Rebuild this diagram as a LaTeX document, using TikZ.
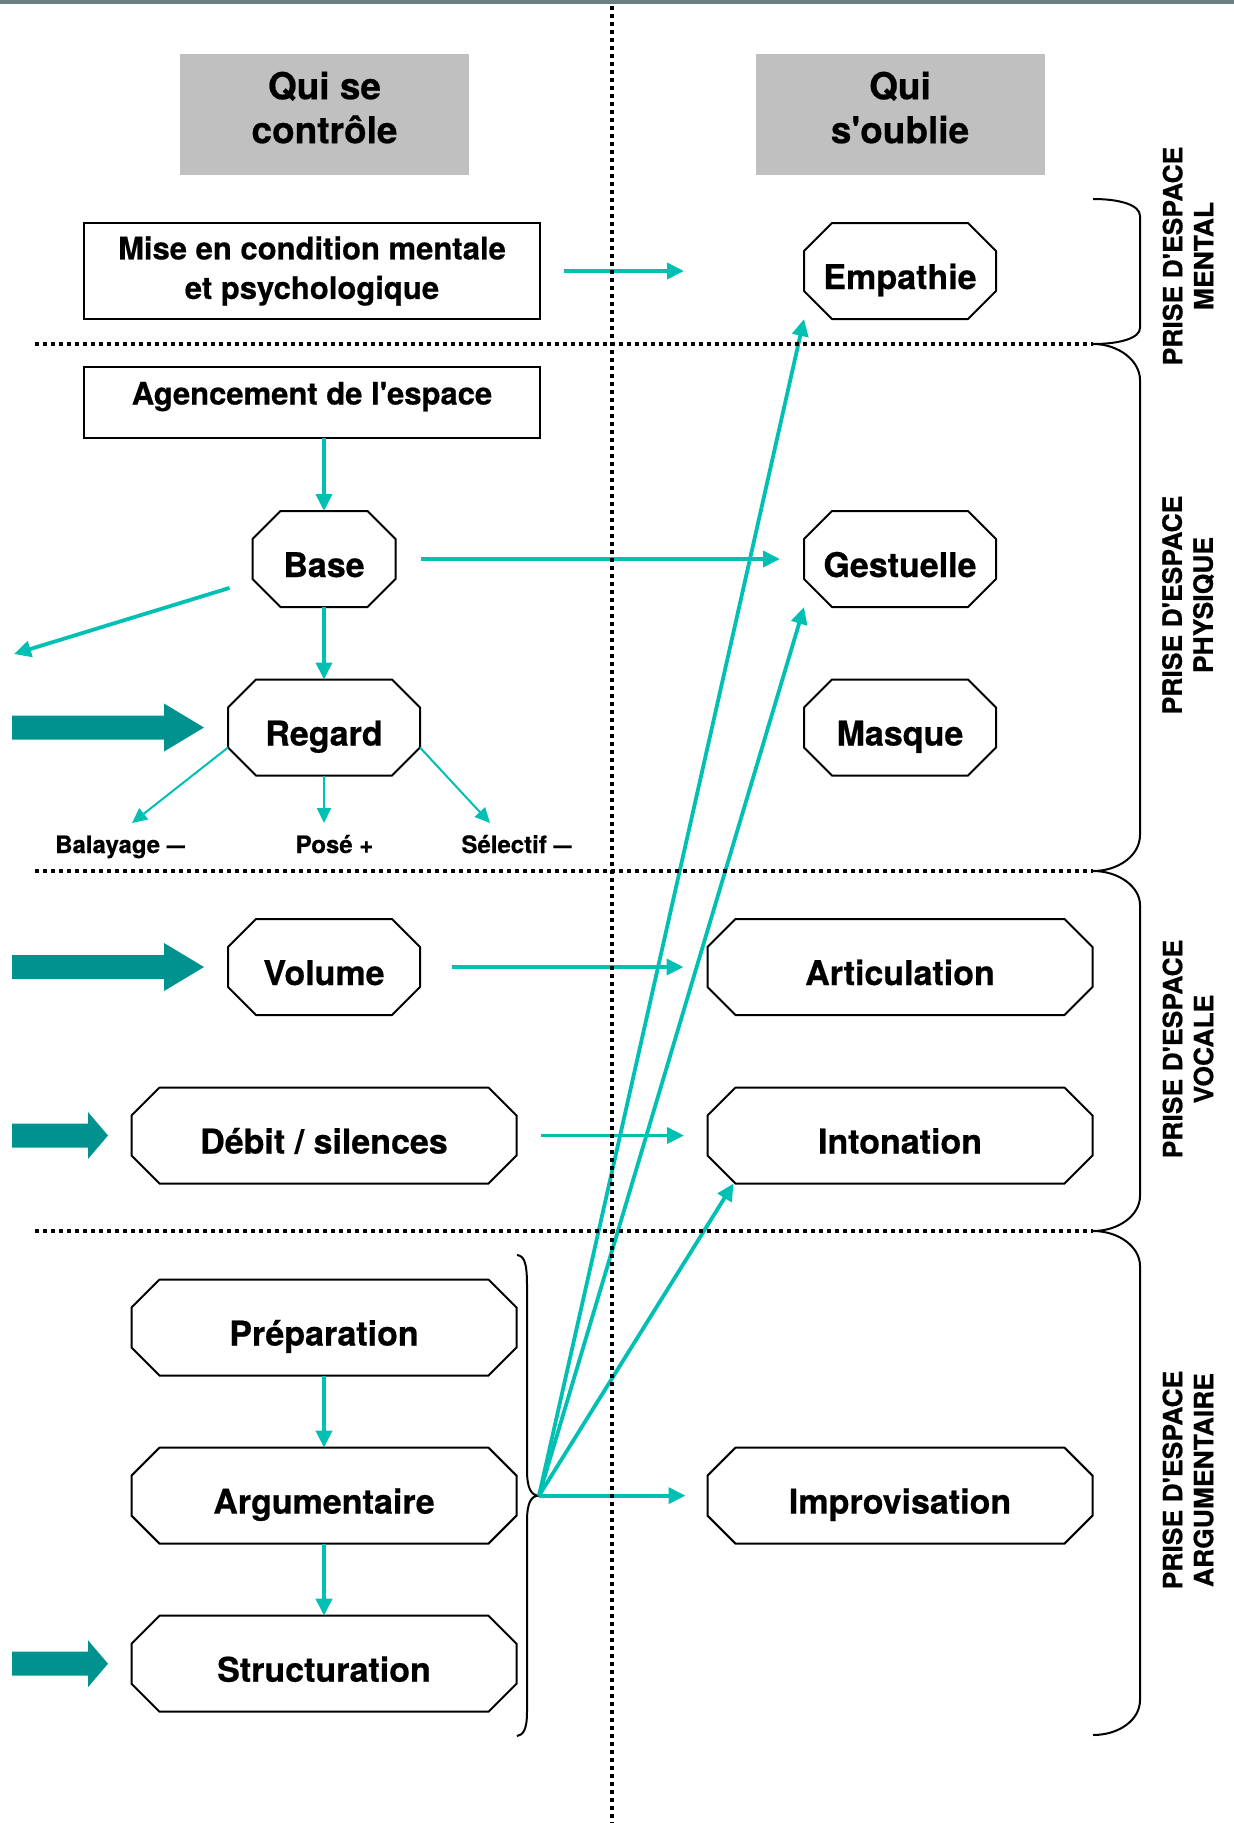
\documentclass[tikz,border=0pt]{standalone}
\usepackage{fontspec}
\setmainfont{TeX Gyre Heros}[BoldFeatures={FakeBold=0.6}]
\usetikzlibrary{arrows.meta}
\definecolor{tealA}{RGB}{0,192,180}
\definecolor{tealB}{RGB}{0,146,143}
\definecolor{hdrgray}{RGB}{192,192,192}
\definecolor{barcol}{RGB}{108,126,128}
\newcommand{\apos}{\textquotesingle}
\newcommand{\mydash}{\scalebox{0.75}[1]{—}}
\tikzset{
  every node/.style={outer sep=0pt},
  oct/.style={rectangle, inner sep=0pt, minimum height=96pt, text height=36pt, text depth=0pt,
    font=\bfseries\fontsize{34}{40}\selectfont},
  octS/.style={oct, minimum width=143pt},
  octM/.style={oct, minimum width=192pt},
  octL/.style={oct, minimum width=385pt},
  octline/.style={draw=black, line width=2pt, line join=miter},
  boxnode/.style={rectangle, draw=black, line width=2pt, minimum width=456pt, align=center,
    font=\bfseries\fontsize{31}{39.5}\selectfont},
  hdr/.style={rectangle, fill=hdrgray, minimum width=289pt, minimum height=121pt, align=center,
    font=\bfseries\fontsize{37}{44}\selectfont},
  sidelabel/.style={rotate=90, align=center, inner sep=0pt, font=\bfseries\fontsize{26.5}{31}\selectfont},
  sublabel/.style={inner sep=0pt, anchor=base, font=\bfseries\fontsize{24}{28}\selectfont},
  link/.style={draw=tealA, line width=3.8pt, -{Triangle[length=17pt,width=16pt]}},
  sublink/.style={draw=tealA, line width=2pt, -{Triangle[length=15pt,width=14pt]}},
  dotline/.style={draw=black, line width=3.5pt, dash pattern=on 3.6pt off 4.4pt},
  bracket/.style={draw=black, line width=2pt},
  blockarrow/.style={fill=tealB},
}
\begin{document}
\begin{tikzpicture}[x=1pt, y=-1pt]
\useasboundingbox (0,0) rectangle (1234,1823);
\fill[barcol] (0,0) rectangle (1234,4);

% headers
\node[hdr] (h1) at (324.5,114) {Qui se\\contrôle\strut};
\node[hdr] (h2) at (900,114) {Qui\\s\apos oublie\strut};

% left column
\node[boxnode, minimum height=96pt] (mise) at (312,271) {Mise en condition mentale\\et psychologique};
\node[boxnode, minimum height=71pt, text height=22pt, text depth=18pt] (agenc) at (312,402.5) {Agencement de l\apos espace};
\node[octS] (base) at (324,559) {Base};
\node[octM] (regard) at (324,727.5) {Regard};
\node[octM] (volume) at (324,967) {Volume};
\node[octL] (debit) at (324,1135.5) {Débit / silences};
\node[octL] (prep) at (324,1327.5) {Préparation};
\node[octL] (argu) at (324,1495.6) {Argumentaire};
\node[octL] (struct) at (324,1663.7) {Structuration};

% right column
\node[octM] (emp) at (900,271) {Empathie};
\node[octM] (gest) at (900,559) {Gestuelle};
\node[octM] (masque) at (900,727.5) {Masque};
\node[octL] (artic) at (900,967) {Articulation};
\node[octL] (inton) at (900,1135.5) {Intonation};
\node[octL] (improv) at (900,1495.6) {Improvisation};

\foreach \n in {base,regard,volume,debit,prep,argu,struct,emp,gest,masque,artic,inton,improv}
  \draw[octline] ([xshift=28pt]\n.north west) -- ([xshift=-28pt]\n.north east) -- ([yshift=-28pt]\n.north east)
    -- ([yshift=28pt]\n.south east) -- ([xshift=-28pt]\n.south east) -- ([xshift=28pt]\n.south west)
    -- ([yshift=28pt]\n.south west) -- ([yshift=-28pt]\n.north west) -- cycle;

% regard sub labels
\node[sublabel] (bal) at (120,853) {Balayage \mydash};
\node[sublabel] (pose) at (334.5,853) {Posé +};
\node[sublabel] (sel) at (516.5,853) {Sélectif \mydash};

% side labels
\node[sidelabel] (lmental) at (1188,256) {PRISE D\apos ESPACE\\MENTAL};
\node[sidelabel] (lphys) at (1188,605) {PRISE D\apos ESPACE\\PHYSIQUE};
\node[sidelabel] (lvoc) at (1188,1049) {PRISE D\apos ESPACE\\VOCALE};
\node[sidelabel] (largu) at (1188,1480) {PRISE D\apos ESPACE\\ARGUMENTAIRE};

% right brackets
\draw[bracket] (1093,199) .. controls (1120,199) and (1140,205) .. (1140,216) -- (1140,328)
  .. controls (1140,338) and (1120,344) .. (1093,344);
\draw[bracket] (1093,344) .. controls (1119,344) and (1140,361) .. (1140,380) -- (1140,835)
  .. controls (1140,855) and (1119,871) .. (1093,871);
\draw[bracket] (1093,871) .. controls (1119,871) and (1140,887) .. (1140,905) -- (1140,1196)
  .. controls (1140,1215) and (1119,1231) .. (1093,1231);
\draw[bracket] (1093,1231) .. controls (1119,1231) and (1140,1247) .. (1140,1266) -- (1140,1700)
  .. controls (1140,1720) and (1119,1735) .. (1093,1735);

% left brace
\coordinate (tip) at (539,1495.6);
\draw[bracket] (517,1255) .. controls (524,1256) and (527,1262) .. (527,1285) -- (527,1470)
  .. controls (527,1488) and (531,1495.6) .. (tip)
  .. controls (531,1495.6) and (527,1503) .. (527,1521) -- (527,1712)
  .. controls (527,1730) and (523,1735) .. (517,1736);

% block arrows
\fill[blockarrow] ([xshift=-24pt]regard.west) -- ++(-40,24) -- ++(0,-12) -- ++(-152,0) -- ++(0,-24) -- ++(152,0) -- ++(0,-12) -- cycle;
\fill[blockarrow] ([xshift=-24pt]volume.west) -- ++(-40,24) -- ++(0,-12) -- ++(-152,0) -- ++(0,-24) -- ++(152,0) -- ++(0,-12) -- cycle;
\fill[blockarrow] ([xshift=-23.5pt]debit.west) -- ++(-20,23.5) -- ++(0,-11.5) -- ++(-76,0) -- ++(0,-24) -- ++(76,0) -- ++(0,-11.5) -- cycle;
\fill[blockarrow] ([xshift=-23.5pt]struct.west) -- ++(-20,23.5) -- ++(0,-11.5) -- ++(-76,0) -- ++(0,-24) -- ++(76,0) -- ++(0,-11.5) -- cycle;

% connectors
\coordinate (baseout) at (14,654);
\draw[link, shorten <=24pt, shorten >=120pt] (mise) -- (emp);
\draw[link] (agenc.south -| base.north) -- (base.north);
\draw[link, shorten <=25pt, shorten >=24pt] (base) -- (gest);
\draw[link, shorten <=24pt] (base) -- (baseout);
\draw[link] (base) -- (regard);
\draw[sublink] ([yshift=28pt]regard.south west) -- ([xshift=12pt,yshift=30pt]bal.base);
\draw[sublink] (regard.south) -- ([xshift=-10.5pt,yshift=30pt]pose.base);
\draw[sublink] ([yshift=28pt]regard.south east) -- ([xshift=-26.5pt,yshift=30pt]sel.base);
\draw[link, shorten <=32pt, shorten >=24pt] (volume) -- (artic);
\draw[link, shorten <=24.5pt, shorten >=23.5pt] (debit) -- (inton);
\draw[link] (prep) -- (argu);
\draw[link] (argu) -- (struct);
\draw[link] (tip) -- (emp.south west);
\draw[link] (tip) -- (gest.south west);
\draw[link] (tip) -- ([xshift=26pt]inton.south west);
\draw[link, shorten >=22pt] (tip) -- (improv);

% dotted separators
\draw[dotline] (612,6) -- (612,1823);
\draw[dotline] (35,344) -- (1093,344);
\draw[dotline] (35,871) -- (1093,871);
\draw[dotline] (35,1231) -- (1093,1231);
\end{tikzpicture}
\end{document}
